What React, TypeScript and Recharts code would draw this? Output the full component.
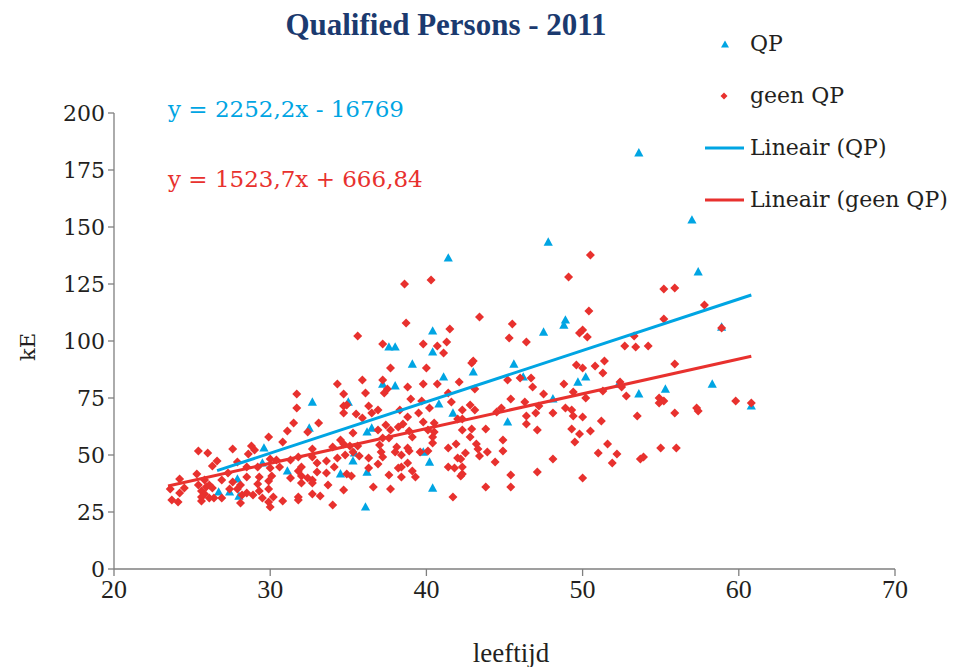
import React from 'react';
import { ScatterChart, Scatter, XAxis, YAxis, Legend } from 'recharts';

const BLUE = '#00a5e3';
const RED = '#e8312e';
const NAVY = '#1b3a6f';
const INK = '#231f20';
const AXIS = '#7f7f7f';

const xTicks = [20, 30, 40, 50, 60, 70];
const yTicks = [0, 25, 50, 75, 100, 125, 150, 175, 200];

const legendLabels = ['QP', 'geen QP', 'Lineair (QP)', 'Lineair (geen QP)'];
const equationLabels = ['y = 2252,2x - 16769', 'y = 1523,7x + 666,84'];

// trend coefficients (in E, chart in kE) and x-range
const qpTrendCoef = [2252.2, -16769];
const geenTrendCoef = [1523.7, 666.84];
const qpTrendRange = [26.6, 60.8];
const geenTrendRange = [23.46, 60.8];

// QP: [leeftijd, kE]
const qpPoints: [number, number][] = [
  [53.6, 182.5], [57.0, 153.1], [57.4, 130.3], [58.9, 106.1], [48.9, 109.2], [48.8, 107.0],
  [49.7, 82.0], [50.2, 84.2], [53.6, 76.8], [55.3, 78.9], [58.3, 81.1], [60.8, 71.5],
  [47.5, 103.9], [48.1, 74.6], [52.3, 81.1], [47.8, 143.4], [41.4, 136.4], [40.4, 104.4],
  [37.6, 97.4], [38.0, 97.4], [40.4, 95.2], [39.1, 89.9], [45.6, 89.9], [43.0, 86.4],
  [41.1, 84.2], [37.2, 81.1], [38.0, 80.3], [46.2, 84.2], [35.0, 73.2], [40.8, 72.4],
  [41.7, 68.4], [45.2, 64.5], [36.5, 61.8], [36.2, 60.1], [39.8, 51.3], [40.2, 46.9],
  [35.4, 50.9], [35.3, 47.4], [36.2, 42.5], [34.5, 41.7], [40.4, 35.5], [36.1, 27.2],
  [32.7, 73.2], [32.5, 61.8], [29.6, 53.1], [29.5, 46.5], [31.1, 43.0], [27.9, 39.5],
  [26.7, 33.8], [27.4, 33.8], [28.0, 32.0],
];

// geen QP: [leeftijd, kE]
const geenQpPoints: [number, number][] = [
  [50.5, 137.7], [49.1, 128.1], [50.4, 113.2], [55.2, 122.8], [55.9, 123.2], [57.8, 115.8],
  [55.2, 109.7], [58.9, 105.7], [50.0, 104.8], [49.8, 103.5], [50.3, 101.8], [53.3, 102.2],
  [52.7, 97.8], [53.4, 97.4], [54.2, 97.8], [49.6, 89.5], [50.0, 88.2], [50.8, 89.0],
  [51.4, 91.2], [51.3, 86.0], [55.9, 89.9], [48.8, 81.1], [49.4, 77.6], [50.2, 75.0],
  [51.3, 78.1], [52.4, 82.0], [52.5, 79.8], [52.8, 75.9], [54.9, 75.0], [54.9, 72.8],
  [55.2, 73.7], [57.3, 70.6], [57.4, 69.3], [59.8, 73.7], [60.8, 72.8], [48.9, 70.6],
  [49.3, 69.7], [49.4, 67.1], [50.0, 66.7], [51.2, 64.9], [53.5, 67.1], [55.9, 68.4],
  [49.3, 61.4], [49.8, 59.2], [50.5, 60.5], [49.5, 55.7], [51.6, 54.8], [55.0, 53.1],
  [56.0, 53.1], [47.5, 76.8], [48.1, 68.4], [51.0, 50.9], [52.2, 50.4], [51.9, 46.5],
  [53.7, 48.2], [53.9, 49.1], [48.1, 48.2], [50.0, 39.9], [47.1, 42.5],
  [38.6, 125.0], [40.3, 126.8], [38.7, 107.9], [43.4, 110.5], [45.5, 107.5], [41.5, 105.3],
  [35.6, 102.2], [45.3, 101.3], [46.4, 99.6],
  [37.2, 98.7], [39.8, 98.7], [40.7, 97.8], [41.3, 99.6], [41.1, 94.7], [42.9, 90.4],
  [43.0, 91.2], [37.7, 88.2], [40.0, 88.2], [35.9, 82.9], [37.2, 82.9], [39.8, 81.1],
  [40.7, 81.1], [38.8, 79.8], [37.5, 78.9], [37.3, 77.2], [46.0, 83.8], [46.7, 83.8],
  [46.8, 79.8], [45.2, 82.9], [34.7, 76.8], [36.1, 77.2], [34.7, 71.5], [34.9, 71.9],
  [36.3, 71.5], [36.9, 69.7], [36.5, 68.4], [39.0, 74.6], [39.7, 73.7], [42.8, 71.9],
  [43.1, 69.7], [41.4, 77.2], [43.1, 78.9], [41.6, 73.2], [45.4, 74.6], [46.3, 73.2],
  [35.5, 68.0], [35.9, 66.2], [38.3, 69.7], [38.8, 66.7], [39.5, 68.4], [40.2, 70.6],
  [42.3, 69.7], [44.5, 68.9], [44.8, 70.6], [47.2, 71.5], [46.4, 67.1], [47.0, 68.4],
  [46.4, 63.6], [47.1, 61.0], [42.0, 65.8], [42.3, 65.8], [40.5, 64.0], [39.8, 64.5],
  [38.2, 62.3], [38.5, 63.6], [37.4, 63.2], [36.9, 61.0], [37.7, 61.0], [38.9, 60.5],
  [40.1, 61.0], [40.5, 60.1], [42.3, 61.0], [42.9, 61.4], [43.8, 61.4], [35.3, 59.6],
  [37.2, 57.5], [37.6, 57.5], [39.1, 57.9], [40.4, 57.9], [42.8, 57.9], [43.2, 54.8],
  [44.9, 56.6], [34.5, 56.6], [34.7, 54.8], [35.1, 53.9], [35.6, 53.9], [37.0, 54.4],
  [38.1, 53.5], [38.8, 53.1], [40.4, 55.3], [41.9, 54.8], [41.4, 53.1], [34.8, 50.0],
  [35.7, 49.6], [37.1, 51.3], [37.2, 49.1], [38.0, 51.3], [38.4, 50.0], [38.9, 51.8],
  [39.6, 51.3], [40.1, 51.8], [43.3, 52.6], [43.4, 49.6], [43.9, 51.3], [44.9, 51.8],
  [44.4, 46.9], [42.5, 50.9], [42.0, 48.7], [42.2, 48.2], [36.3, 48.7], [36.9, 46.1],
  [38.2, 44.3], [38.4, 44.7], [38.8, 46.5], [39.1, 43.0], [39.3, 40.4], [38.4, 40.4],
  [37.6, 41.2], [36.3, 44.3], [34.9, 41.7], [41.4, 44.7], [41.8, 44.3], [42.3, 44.7],
  [42.3, 41.7], [42.2, 40.8], [45.4, 41.2], [45.4, 36.0], [43.8, 36.0], [41.7, 31.6],
  [37.7, 35.1], [36.6, 36.0], [34.7, 34.6], [42.1, 82.0],
  [34.3, 81.1], [31.7, 76.8], [31.7, 70.6], [34.7, 68.4], [31.5, 64.0], [33.1, 64.0],
  [32.4, 60.1], [31.1, 60.5], [29.9, 57.9], [30.8, 55.7], [28.8, 53.9], [29.0, 52.2],
  [28.6, 50.4], [27.6, 52.6], [25.4, 51.8], [26.0, 50.9], [26.6, 47.4], [26.3, 45.2],
  [27.9, 46.9], [28.5, 44.7], [27.3, 42.1], [29.2, 44.7], [30.0, 48.2], [30.0, 44.3],
  [30.4, 47.8], [31.3, 47.8], [31.8, 49.1], [32.7, 52.6], [32.7, 49.1], [32.0, 44.7],
  [33.0, 46.5], [33.6, 47.4], [34.0, 53.5], [34.3, 48.7], [35.3, 51.3], [34.1, 44.7],
  [33.0, 42.5], [31.8, 43.0], [30.6, 44.7], [30.1, 40.8], [31.3, 39.9], [32.0, 40.8],
  [32.0, 37.7], [32.4, 39.9], [33.6, 42.1], [32.7, 39.0], [35.2, 40.8], [29.3, 40.4],
  [29.9, 38.6], [29.2, 37.3], [28.1, 36.8], [28.5, 40.4], [27.6, 38.2], [26.9, 39.0],
  [25.8, 39.0], [25.4, 36.8], [25.9, 36.0], [26.1, 36.8], [26.3, 35.5], [25.6, 34.2],
  [25.8, 32.9], [26.4, 31.1], [26.9, 31.1], [27.4, 35.1], [27.9, 35.1], [28.2, 32.5],
  [28.5, 33.3], [28.9, 32.5], [29.3, 34.2], [29.9, 35.1], [30.2, 31.6], [29.5, 31.1],
  [29.9, 29.4], [30.0, 27.2], [28.1, 28.9], [30.8, 29.8], [31.8, 31.6], [31.8, 30.3],
  [32.7, 32.9], [33.2, 32.0], [32.7, 37.7], [33.7, 36.8], [34.0, 28.1], [25.3, 41.7],
  [24.2, 39.5], [24.5, 35.5], [23.6, 35.1], [24.2, 33.3], [23.7, 30.3], [24.1, 29.4],
  [25.6, 29.8], [25.6, 31.6], [26.1, 31.1],
];

const toRows = (pts: [number, number][]) => pts.map(([x, y]) => ({ x, y }));
const trendRows = (coef: number[], range: number[]) =>
  range.map((x) => ({ x, y: (coef[0] * x + coef[1]) / 1000 }));

const qpData = toRows(qpPoints);
const geenData = toRows(geenQpPoints);
const qpTrend = trendRows(qpTrendCoef, qpTrendRange);
const geenTrend = trendRows(geenTrendCoef, geenTrendRange);

const TriangleShape = (props: any) => {
  const { cx, cy } = props;
  if (cx == null || cy == null) return <g />;
  return (
    <polygon
      points={`${cx},${cy - 4.8} ${cx + 4.6},${cy + 3.6} ${cx - 4.6},${cy + 3.6}`}
      fill={BLUE}
    />
  );
};

const DiamondShape = (props: any) => {
  const { cx, cy } = props;
  if (cx == null || cy == null) return <g />;
  return (
    <polygon
      points={`${cx},${cy - 4.5} ${cx + 4.5},${cy} ${cx},${cy + 4.5} ${cx - 4.5},${cy}`}
      fill={RED}
    />
  );
};

const NoShape = () => <g />;

const legendFont = { fontFamily: 'DejaVu Serif', fontSize: 22, fill: INK };

const renderLegend = () => (
  <svg width={957} height={230} style={{ display: 'block' }}>
    <polygon points="725,40.5 729,47.5 721,47.5" fill={BLUE} />
    <text x={750} y={51} {...legendFont}>{legendLabels[0]}</text>
    <polygon points="724,92.5 727.5,96 724,99.5 720.5,96" fill={RED} />
    <text x={750} y={103} {...legendFont}>{legendLabels[1]}</text>
    <line x1={705} x2={744} y1={148} y2={148} stroke={BLUE} strokeWidth={3} />
    <text x={750} y={155} {...legendFont}>{legendLabels[2]}</text>
    <line x1={705} x2={744} y1={200} y2={200} stroke={RED} strokeWidth={3} />
    <text x={750} y={207} {...legendFont}>{legendLabels[3]}</text>
  </svg>
);

export default function App() {
  return (
    <div style={{ position: 'absolute', left: 0, top: 0, width: 957, height: 667, background: '#fff' }}>
      <ScatterChart
        width={957}
        height={667}
        margin={{ top: 113, right: 62, bottom: 58, left: 54 }}
      >
        <XAxis
          type="number"
          dataKey="x"
          domain={[20, 70]}
          ticks={xTicks}
          height={40}
          allowDataOverflow
          axisLine={{ stroke: AXIS, strokeWidth: 1.3 }}
          tickLine={{ stroke: AXIS, strokeWidth: 1.3 }}
          tickSize={7}
          tickMargin={4}
          tick={{ fontFamily: 'Liberation Serif', fontSize: 26, fill: INK }}
        />
        <YAxis
          type="number"
          dataKey="y"
          domain={[0, 200]}
          ticks={yTicks}
          width={60}
          allowDataOverflow
          axisLine={{ stroke: AXIS, strokeWidth: 1.3 }}
          tickLine={{ stroke: AXIS, strokeWidth: 1.3 }}
          tickSize={6}
          tickMargin={3}
          tick={{ fontFamily: 'DejaVu Serif', fontSize: 22, fill: INK }}
        />
        <Legend
          layout="horizontal"
          verticalAlign="middle"
          align="center"
          content={renderLegend}
          wrapperStyle={{ left: 0, top: 0, width: 957, height: 230, pointerEvents: 'none' }}
        />
        <Scatter name="QP" data={qpData} shape={TriangleShape} isAnimationActive={false} />
        <Scatter name="geen QP" data={geenData} shape={DiamondShape} isAnimationActive={false} />
        <Scatter
          name="Lineair (QP)"
          data={qpTrend}
          shape={NoShape}
          line={{ stroke: BLUE, strokeWidth: 3 }}
          isAnimationActive={false}
        />
        <Scatter
          name="Lineair (geen QP)"
          data={geenTrend}
          shape={NoShape}
          line={{ stroke: RED, strokeWidth: 3 }}
          isAnimationActive={false}
        />
      </ScatterChart>
      <svg
        width={957}
        height={667}
        style={{ position: 'absolute', left: 0, top: 0, pointerEvents: 'none' }}
      >
        <text x={446} y={35} textAnchor="middle" fontFamily="Liberation Serif" fontWeight="bold" fontSize={31} fill={NAVY}>
          Qualified Persons - 2011
        </text>
        <text x={168} y={117} fontFamily="DejaVu Serif" fontSize={23} fill={BLUE}>
          {equationLabels[0]}
        </text>
        <text x={168} y={187} fontFamily="DejaVu Serif" fontSize={23} fill={RED}>
          {equationLabels[1]}
        </text>
        <text x={511} y={662} textAnchor="middle" fontFamily="Liberation Serif" fontSize={27} fill={INK}>
          leeftijd
        </text>
        <text
          x={0}
          y={0}
          transform="translate(35,347) rotate(-90)"
          textAnchor="middle"
          fontFamily="DejaVu Serif"
          fontSize={21}
          fill={INK}
        >
          kE
        </text>
      </svg>
    </div>
  );
}
